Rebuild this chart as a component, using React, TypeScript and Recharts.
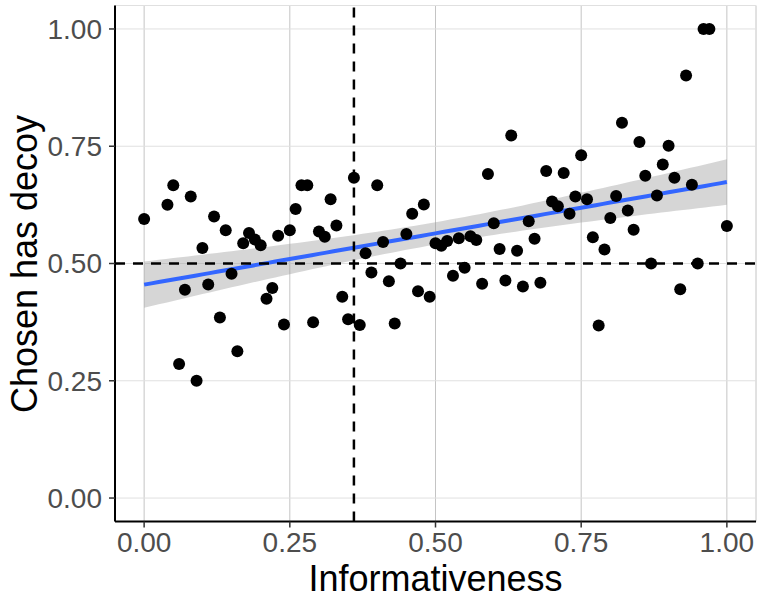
import {
  ComposedChart,
  Line,
  Area,
  XAxis,
  YAxis,
  CartesianGrid,
  ReferenceLine,
} from "recharts";

// ─── Data ─────────────────────────────────────────────────────────────────────
const informativeness = [
  0.0, 0.04, 0.05, 0.06, 0.07, 0.08, 0.09, 0.1, 0.11, 0.12, 0.13, 0.14, 0.15,
  0.16, 0.17, 0.18, 0.19, 0.2, 0.21, 0.22, 0.23, 0.24, 0.25, 0.26, 0.27, 0.28,
  0.29, 0.3, 0.31, 0.32, 0.33, 0.34, 0.35, 0.36, 0.37, 0.38, 0.39, 0.4, 0.41,
  0.42, 0.43, 0.44, 0.45, 0.46, 0.47, 0.48, 0.49, 0.5, 0.51, 0.52, 0.53, 0.54,
  0.55, 0.56, 0.57, 0.58, 0.59, 0.6, 0.61, 0.62, 0.63, 0.64, 0.65, 0.66, 0.67,
  0.68, 0.69, 0.7, 0.71, 0.72, 0.73, 0.74, 0.75, 0.76, 0.77, 0.78, 0.79, 0.8,
  0.81, 0.82, 0.83, 0.84, 0.85, 0.86, 0.87, 0.88, 0.89, 0.9, 0.91, 0.92, 0.93,
  0.94, 0.95, 0.96, 0.97, 1.0,
];

const chosenHasDecoy = [
  0.595, 0.625, 0.667, 0.286, 0.444, 0.643, 0.25, 0.533, 0.455, 0.6, 0.385,
  0.571, 0.478, 0.313, 0.543, 0.565, 0.551, 0.539, 0.425, 0.448, 0.559, 0.37,
  0.571, 0.616, 0.667, 0.667, 0.375, 0.568, 0.557, 0.637, 0.581, 0.429, 0.381,
  0.683, 0.369, 0.522, 0.481, 0.667, 0.546, 0.462, 0.372, 0.5, 0.563, 0.606,
  0.441, 0.626, 0.429, 0.543, 0.538, 0.548, 0.474, 0.554, 0.491, 0.558, 0.55,
  0.457, 0.691, 0.586, 0.531, 0.464, 0.773, 0.527, 0.451, 0.59, 0.553, 0.459,
  0.697, 0.632, 0.622, 0.693, 0.606, 0.643, 0.731, 0.637, 0.556, 0.368, 0.53,
  0.597, 0.644, 0.8, 0.613, 0.572, 0.759, 0.687, 0.5, 0.645, 0.711, 0.751,
  0.683, 0.445, 0.901, 0.668, 0.5, 1.0, 1.0, 0.58,
];

const axisTicks = [0, 0.25, 0.5, 0.75, 1];
const threshold = 0.36;
const chanceLevel = 0.5;

// ─── Linear fit + 95% CI (like geom_smooth(method = "lm")) ───────────────────
const points = informativeness.map((x, i) => ({ x, y: chosenHasDecoy[i] }));
const n = points.length;
const xBar = informativeness.reduce((s, v) => s + v, 0) / n;
const yBar = chosenHasDecoy.reduce((s, v) => s + v, 0) / n;
const sxx = informativeness.reduce((s, v) => s + (v - xBar) ** 2, 0);
const sxy = points.reduce((s, p) => s + (p.x - xBar) * (p.y - yBar), 0);
const slope = sxy / sxx;
const intercept = yBar - slope * xBar;
const rss = points.reduce((s, p) => s + (p.y - intercept - slope * p.x) ** 2, 0);
const sigma = Math.sqrt(rss / (n - 2));
const tCrit = 1.986;

const minX = Math.min(...informativeness);
const maxX = Math.max(...informativeness);
const bandData = Array.from({ length: 81 }, (_, i) => {
  const x = minX + ((maxX - minX) * i) / 80;
  const fit = intercept + slope * x;
  const se = sigma * Math.sqrt(1 / n + (x - xBar) ** 2 / sxx);
  return { x, band: [fit - tCrit * se, fit + tCrit * se], fit };
});

const tickStyle = { fontFamily: "Liberation Sans, Arial, sans-serif", fontSize: 28, fill: "#4D4D4D" };
const titleFont = "Liberation Sans, Arial, sans-serif";

function XTitle({ viewBox }: any) {
  const { x, width } = viewBox;
  return (
    <text x={x + width / 2} y={591} textAnchor="middle" fontFamily={titleFont} fontSize={36} fill="#000">
      Informativeness
    </text>
  );
}

function YTitle() {
  return (
    <text
      transform="translate(37,264) rotate(-90)"
      textAnchor="middle"
      fontFamily={titleFont}
      fontSize={36}
      fill="#000"
    >
      Chosen has decoy
    </text>
  );
}

export default function App() {
  return (
    <div style={{ position: "absolute", left: 0, top: 0 }}>
      <ComposedChart width={757} height={599} margin={{ top: 5.5, right: 1, left: 0, bottom: 0 }}>
        <CartesianGrid horizontal={false} stroke="#C4C4C4" strokeWidth={1} />
        <CartesianGrid vertical={false} stroke="#E0E0E0" strokeWidth={1} />
        <XAxis
          type="number"
          dataKey="x"
          domain={[-0.05, 1.05]}
          ticks={axisTicks}
          tickFormatter={(v) => v.toFixed(2)}
          tick={tickStyle}
          tickSize={6}
          tickMargin={5}
          tickLine={{ stroke: "#333", strokeWidth: 1.5 }}
          axisLine={{ stroke: "#000", strokeWidth: 2 }}
          height={77.5}
          allowDataOverflow
          label={<XTitle />}
        />
        <YAxis
          type="number"
          domain={[-0.05, 1.05]}
          ticks={axisTicks}
          tickFormatter={(v) => v.toFixed(2)}
          tick={tickStyle}
          tickSize={6}
          tickMargin={7}
          tickLine={{ stroke: "#333", strokeWidth: 1.5 }}
          axisLine={{ stroke: "#000", strokeWidth: 2 }}
          width={115}
          allowDataOverflow
          label={<YTitle />}
        />
        {/* points drawn as dots only, so the CI band can sit on top like ggplot */}
        <Line
          data={points}
          dataKey="y"
          stroke="none"
          dot={{ r: 6, fill: "#000", stroke: "none" }}
          activeDot={false}
          isAnimationActive={false}
        />
        <Area
          data={bandData}
          dataKey="band"
          type="linear"
          stroke="none"
          fill="#999999"
          fillOpacity={0.4}
          dot={false}
          activeDot={false}
          isAnimationActive={false}
        />
        <Line
          data={bandData}
          dataKey="fit"
          type="linear"
          stroke="#3366FF"
          strokeWidth={4}
          dot={false}
          activeDot={false}
          isAnimationActive={false}
        />
        <ReferenceLine y={chanceLevel} stroke="#000" strokeWidth={2.5} strokeDasharray="10 8" />
        <ReferenceLine x={threshold} stroke="#000" strokeWidth={2.5} strokeDasharray="10 8" />
      </ComposedChart>
    </div>
  );
}
